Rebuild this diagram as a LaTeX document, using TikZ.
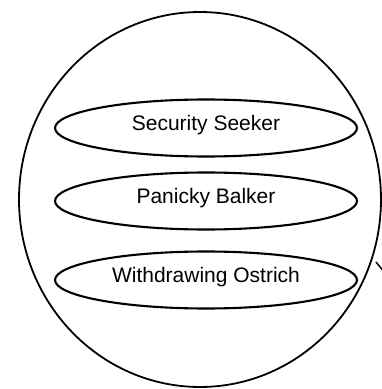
\documentclass[tikz,border=0pt]{standalone}
\usepackage{fontspec}
\setmainfont{Liberation Sans}
\usetikzlibrary{shapes.geometric}
\tikzset{
  typeoval/.style={draw, ellipse, line width=2.1pt, minimum width=302pt, minimum height=57pt,
    inner sep=0pt, text height=15pt, text depth=9pt, font=\fontsize{21}{25}\selectfont},
  sphere/.style={draw, ellipse, line width=1.8pt, minimum width=362pt, minimum height=375pt, inner sep=0pt}
}
\begin{document}
\begin{tikzpicture}[x=1pt,y=1pt]
\useasboundingbox (0,0) rectangle (382,389);
\node [sphere] (whole) at (200,189.5) {};
\node [typeoval] (seeker) at (206,261) {Security Seeker};
\node [typeoval] (balker) at (206,188) {Panicky Balker};
\node [typeoval] (ostrich) at (206,109) {Withdrawing Ostrich};
\coordinate (tail) at (376,127);
\draw [line width=1.5pt] (tail) -- (385,116);
\end{tikzpicture}
\end{document}
